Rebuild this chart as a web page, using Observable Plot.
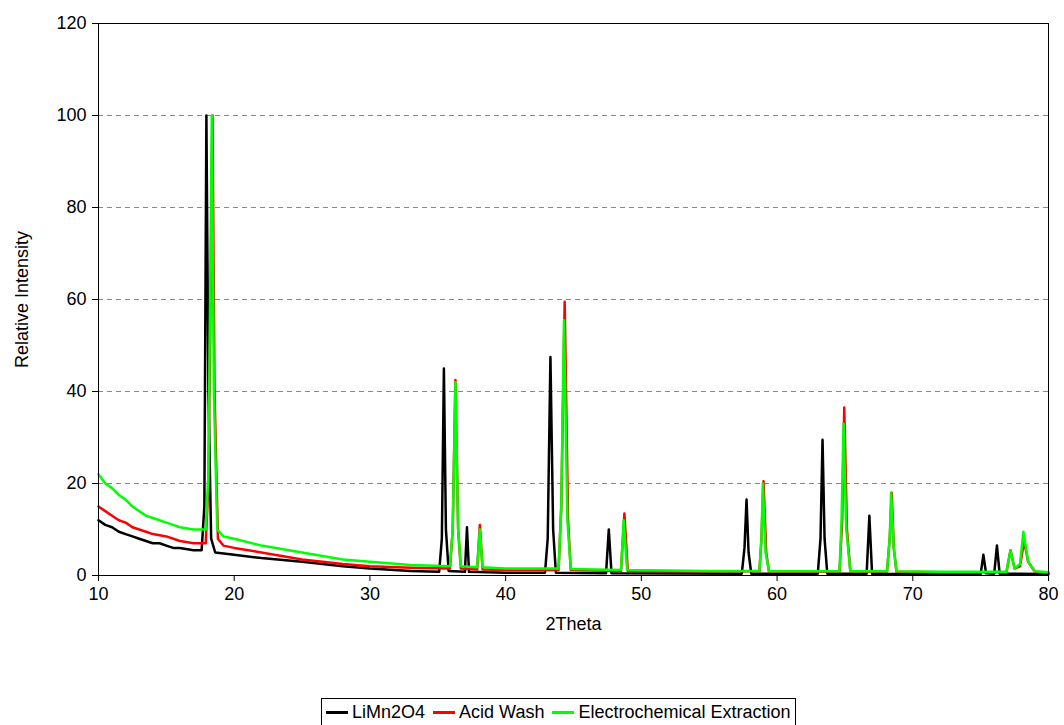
<!DOCTYPE html>
<html><head><meta charset="utf-8">
<script src="https://cdn.jsdelivr.net/npm/d3@7"></script>
<script src="https://cdn.jsdelivr.net/npm/@observablehq/plot@0.6"></script>
<style>
body{margin:0;background:#fff;font-family:"Liberation Sans",Arial,sans-serif;}
#legend{position:absolute;left:321px;top:698px;border:1px solid #000;padding:1px 4px;display:flex;gap:8px;font-size:18px;line-height:24px;}
#legend span{display:flex;align-items:center;}
#legend i{display:inline-block;width:22px;height:3px;margin-right:4px;}
</style></head><body>
<div id="chart"></div>
<div id="legend">
<span><i style="background:#000"></i>LiMn2O4</span>
<span><i style="background:#f00"></i>Acid Wash</span>
<span><i style="background:#0f0"></i>Electrochemical Extraction</span>
</div>
<script>
const limn2o4 = [[10,12],[10.5,11],[11,10.5],[11.5,9.5],[12,9],[12.5,8.5],[13,8],[13.5,7.5],[14,7],[14.5,7],[15,6.5],[15.5,6],[16,6],[17,5.5],[17.6,5.5],[17.8,15],[17.95,100],[18.1,40],[18.3,8],[18.6,5],[20,4.5],[22,3.8],[25,3],[28,2],[30,1.5],[33,1],[35.1,0.8],[35.3,8],[35.45,45],[35.6,10],[35.8,1],[37.0,0.8],[37.15,10.5],[37.3,0.8],[40,0.6],[42.9,0.6],[43.1,8],[43.3,47.5],[43.5,10],[43.7,0.6],[47.4,0.5],[47.6,10],[47.8,0.5],[57.4,0.4],[57.6,6],[57.75,16.5],[57.9,5],[58.1,0.4],[63.0,0.4],[63.2,8],[63.35,29.5],[63.5,8],[63.7,0.4],[66.6,0.4],[66.8,13],[67.0,0.4],[75.0,0.3],[75.2,4.5],[75.4,0.5],[76.0,0.4],[76.2,6.5],[76.4,0.4],[80,0.3]];
const acidWash = [[10,15],[10.5,14],[11,13],[11.5,12],[12,11.5],[12.5,10.5],[13,10],[13.5,9.5],[14,9],[15,8.5],[16,7.5],[17,7],[17.9,7],[18.1,20],[18.4,100],[18.55,40],[18.8,8],[19.2,6.5],[20,6],[22,5],[25,3.5],[28,2.5],[30,2],[33,1.7],[35.9,1.5],[36.1,10],[36.3,42.5],[36.5,10],[36.7,1.5],[37.9,1.3],[38.1,11],[38.3,1.3],[40,1.2],[43.9,1.2],[44.1,15],[44.35,59.5],[44.6,12],[44.8,1.2],[48.5,1],[48.75,13.5],[49,1],[55,0.9],[58.7,0.9],[58.85,8],[59.0,20.5],[59.2,5],[59.4,0.9],[64.6,0.8],[64.8,12],[64.95,36.5],[65.15,10],[65.4,0.8],[68.1,0.8],[68.3,8],[68.45,18],[68.6,6],[68.8,0.8],[72,0.7],[76.9,0.7],[77.2,5.5],[77.5,1.5],[77.9,2],[78.2,7.5],[78.5,3],[79,0.8],[80,0.6]];
const electrochem = [[10,22],[10.5,20],[11,19],[11.5,17.5],[12,16.5],[12.5,15],[13,14],[13.5,13],[14,12.5],[14.5,12],[15,11.5],[15.5,11],[16,10.5],[17,10],[17.9,10],[18.1,22],[18.35,100],[18.5,40],[18.75,10],[19.2,8.5],[20,8],[22,6.5],[25,5],[28,3.5],[30,3],[33,2.3],[35.9,2],[36.1,10],[36.3,42],[36.5,10],[36.7,2],[37.9,1.8],[38.1,10],[38.3,1.8],[40,1.5],[43.9,1.5],[44.1,15],[44.3,55.5],[44.55,12],[44.8,1.4],[48.5,1.2],[48.7,12],[48.95,1.2],[55,1],[58.7,1],[58.85,8],[58.95,20],[59.15,5],[59.4,1],[64.6,0.9],[64.75,12],[64.9,33],[65.1,10],[65.4,0.9],[68.1,0.9],[68.3,8],[68.4,18],[68.6,6],[68.8,0.9],[72,0.8],[76.9,0.8],[77.2,5.5],[77.5,1.5],[77.9,2.5],[78.15,9.5],[78.5,3],[79,0.9],[80,0.7]];
const yTicks = [0,20,40,60,80,100,120];
const xTicks = [10,20,30,40,50,60,70,80];
const series = [["LiMn2O4",limn2o4,"#000"],["Acid Wash",acidWash,"#f00"],["Electrochemical Extraction",electrochem,"#0f0"]];
const plot = Plot.plot({
  width:1064, height:650,
  marginLeft:98, marginRight:16, marginTop:23, marginBottom:75,
  style:{fontFamily:"Liberation Sans, Arial, sans-serif", fontSize:"18px", color:"#000"},
  x:{domain:[10,80], ticks:xTicks, label:null, tickSize:6, tickPadding:6},
  y:{domain:[0,120], ticks:yTicks, label:null, tickSize:6, tickPadding:6},
  marks:[
    Plot.ruleY(yTicks.filter(d=>d>0&&d<120), {stroke:"#888", strokeDasharray:"5,4", strokeWidth:1}),
    ...series.map(([n,d,c])=>Plot.line(d,{x:d=>d[0],y:d=>d[1],stroke:c,strokeWidth:2.5})),
    Plot.frame({stroke:"#000"}),
    Plot.text(["2Theta"],{frameAnchor:"bottom",dy:54,text:d=>d,fontSize:18}),
    Plot.text(["Relative Intensity"],{frameAnchor:"left",dx:-76,rotate:-90,textAnchor:"middle",text:d=>d,fontSize:18}),
  ]
});
document.getElementById("chart").appendChild(plot);
</script></body></html>
